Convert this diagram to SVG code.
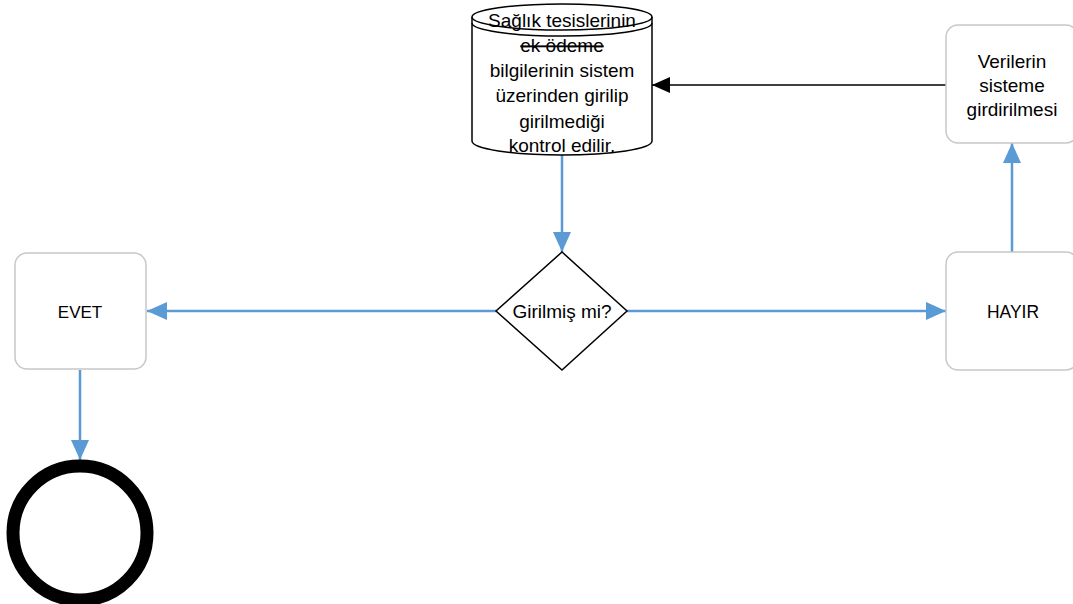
<svg xmlns="http://www.w3.org/2000/svg" width="1073" height="604" viewBox="0 0 1073 604">
<style>
.t{font-family:"Liberation Sans",Arial,sans-serif;font-size:19px;fill:#000;text-anchor:middle}
.box{fill:#fff;stroke:#c8c8c8;stroke-width:1.5}
.blue{stroke:#5b9bd5;stroke-width:2.5;fill:none}
.blk{stroke:#000;stroke-width:1.5;fill:none}
</style>
<defs>
<marker id="ab" markerUnits="userSpaceOnUse" markerWidth="20" markerHeight="18" refX="20" refY="9" orient="auto"><path d="M0,0 L20,9 L0,18 Z" fill="#5b9bd5"/></marker>
<marker id="ak" markerUnits="userSpaceOnUse" markerWidth="18" markerHeight="16" refX="18" refY="8" orient="auto"><path d="M0,0 L18,8 L0,16 Z" fill="#000"/></marker>
</defs>
<rect width="1073" height="604" fill="#fff"/>
<g id="connectors">
<line class="blk" x1="946" y1="85" x2="652" y2="85" marker-end="url(#ak)"/>
<line class="blue" x1="562" y1="155" x2="562" y2="252" marker-end="url(#ab)"/>
<line class="blue" x1="496" y1="311" x2="147" y2="311" marker-end="url(#ab)"/>
<line class="blue" x1="627" y1="311" x2="946" y2="311" marker-end="url(#ab)"/>
<line class="blue" x1="1012" y1="252" x2="1012" y2="143" marker-end="url(#ab)"/>
<line class="blue" x1="80" y1="370" x2="80" y2="460" marker-end="url(#ab)"/>
</g>
<g id="db">
<path d="M472,17 A90,13 0 0 1 652,17 L652,141 A90,14 0 0 1 472,141 Z" fill="#fff" stroke="#000" stroke-width="1.5"/>
<path d="M472,17 A90,13 0 0 0 652,17 M472,23 A90,13 0 0 0 652,23" fill="none" stroke="#000" stroke-width="1.5"/>
<text class="t" x="562" y="27">Sağlık tesislerinin</text>
<text class="t" x="562" y="52" text-decoration="line-through">ek ödeme</text>
<text class="t" x="562" y="77">bilgilerinin sistem</text>
<text class="t" x="562" y="102">üzerinden girilip</text>
<text class="t" x="562" y="128">girilmediği</text>
<text class="t" x="562" y="152">kontrol edilir.</text>
</g>
<g id="verilerin">
<rect class="box" x="946" y="25" width="132" height="118" rx="12"/>
<text class="t" x="1012" y="68">Verilerin</text>
<text class="t" x="1012" y="92">sisteme</text>
<text class="t" x="1012" y="116">girdirilmesi</text>
</g>
<g id="decision">
<path d="M562,252 L627,311 L562,370 L496,311 Z" fill="#fff" stroke="#000" stroke-width="1.5"/>
<text class="t" x="562" y="318">Girilmiş mi?</text>
</g>
<g id="evet">
<rect class="box" x="15" y="253" width="131" height="116" rx="12"/>
<text class="t" x="80" y="318" style="font-size:17px">EVET</text>
</g>
<g id="hayir">
<rect class="box" x="946" y="252" width="132" height="118" rx="12"/>
<text class="t" x="1013" y="318" textLength="52" lengthAdjust="spacingAndGlyphs">HAYIR</text>
</g>
<g id="end">
<circle cx="80" cy="533" r="67" fill="#fff" stroke="#000" stroke-width="13"/>
</g>
</svg>
